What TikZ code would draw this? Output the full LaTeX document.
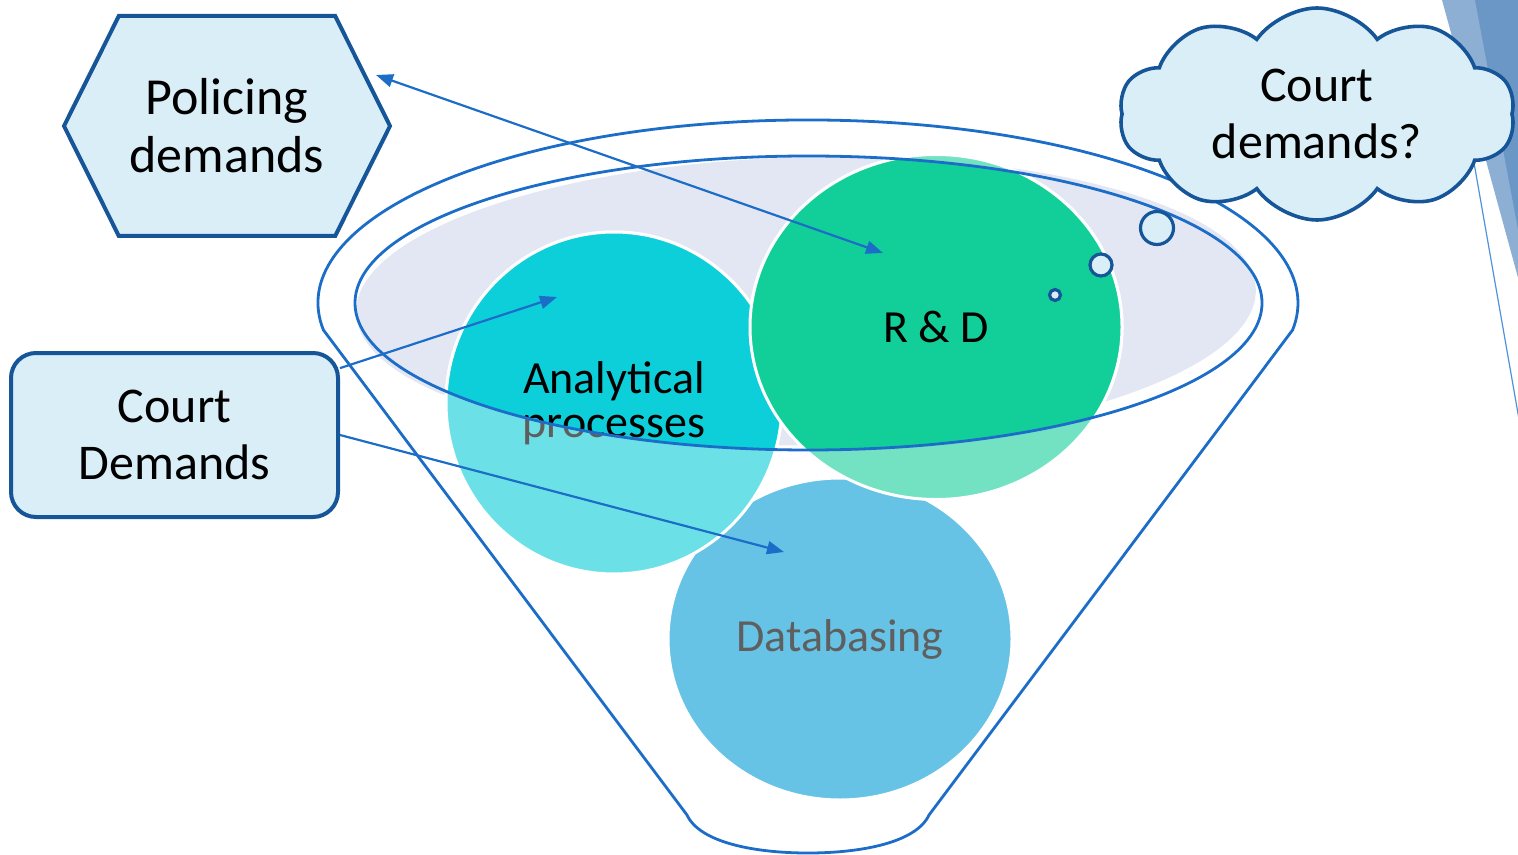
\documentclass[tikz,border=0pt]{standalone}
\usepackage{fontspec}
\setmainfont{Carlito}
\usetikzlibrary{arrows.meta,shapes.geometric,shapes.symbols}
\definecolor{boxfill}{RGB}{218,238,248}
\definecolor{boxline}{RGB}{22,86,152}
\definecolor{lineblue}{RGB}{28,109,200}
\definecolor{lavender}{RGB}{227,231,243}
\definecolor{anaDark}{RGB}{13,207,217}
\definecolor{anaLight}{RGB}{107,225,231}
\definecolor{rdDark}{RGB}{18,207,153}
\definecolor{rdLight}{RGB}{114,226,195}
\definecolor{dbFill}{RGB}{102,195,230}
\definecolor{decoLight}{RGB}{141,175,212}
\definecolor{decoDark}{RGB}{106,151,197}
\definecolor{decoLine}{RGB}{79,146,218}
\definecolor{fadedText}{RGB}{95,95,95}
\tikzset{
    x=0.5pt, y=-0.5pt, % one unit is one pixel of the slide, y runs downwards
    >={Triangle[length=8.5pt,width=6.5pt]},
    demand/.style={draw=boxline, fill=boxfill, line width=2pt, align=center,
        font=\fontsize{25pt}{28.5pt}\selectfont, inner sep=0pt},
    bubble/.style={circle, draw=boxline, fill=boxfill, line width=1.6pt, inner sep=0pt},
    area/.style={ellipse, draw=white, line width=1.5pt, align=center, inner sep=0pt,
        font=\fontsize{23pt}{22pt}\selectfont},
    funnel/.style={draw=lineblue, line width=1.4pt},
    link/.style={draw=lineblue, line width=1.1pt, ->},
}
\begin{document}
\begin{tikzpicture}
  \useasboundingbox (0,0) rectangle (1518,855);
  % slide decoration on the right edge
  \fill[decoLight] (1442,0) -- (1520,0) -- (1520,285) -- cycle;
  \fill[decoDark] (1475,0) -- (1520,0) -- (1520,240) -- cycle;
  \draw[decoLine, line width=0.6pt] (1470,140) -- (1520,425);

  % the funnel
  \draw[funnel] (323.4,330) arc[start angle=171.5, end angle=368.5, x radius=490, y radius=183]
    -- (929,815) .. controls (916,843) and (860,853) .. (808,853)
    .. controls (756,853) and (700,843) .. (687,815) -- cycle;
  \fill[lavender, rotate around={1.5:(808,303)}] (806,301) ellipse [x radius=450, y radius=144];

  % the three areas, faded below the rim
  \node[area, fill=dbFill, text=fadedText, minimum width=172pt, minimum height=161pt] (db) at (840,639) {Databasing};
  \node[area, fill=anaLight, text=fadedText, minimum width=168pt, minimum height=171pt] (ana) at (614,403) {Analytical\\processes};
  \node[area, fill=rdLight, text=fadedText, minimum width=186pt, minimum height=172.5pt] (rd) at (936,327) {R \& D};
  \begin{scope}
    \clip (808.5,303) ellipse [x radius=453.5, y radius=147];
    \node[area, fill=anaDark, minimum width=168pt, minimum height=171pt] (anaIn) at (ana) {Analytical\\processes};
    \node[area, fill=rdDark, minimum width=186pt, minimum height=172.5pt] (rdIn) at (rd) {R \& D};
  \end{scope}
  \draw[funnel] (808.5,303) ellipse [x radius=453.5, y radius=147];

  % the demands
  \node[demand, signal, signal to=west and east, signal pointer angle=127,
      minimum width=163pt, minimum height=110pt,
      font=\fontsize{26pt}{29pt}\selectfont] (policing) at (227,126) {Policing\\demands};
  \node[demand, rounded corners=12.5pt, minimum width=163.5pt, minimum height=82pt] (court) at (174.5,435) {Court\\Demands};
  \node[demand, cloud, cloud puffs=10, cloud puff arc=110, aspect=1.9, line width=1.8pt,
      minimum width=198pt, minimum height=106pt] (cloud) at (1317,114) {Court\\demands?};
  \node[bubble, minimum size=16.5pt] (b1) at (1157,228) {};
  \node[bubble, minimum size=11pt] (b2) at (1101,265) {};
  \node[bubble, minimum size=5.5pt] (b3) at (1055,295) {};

  % arrows
  \coordinate (polTip) at (376,75);
  \coordinate (rdTip) at (883,253);
  \coordinate (anaTip) at (557,297);
  \coordinate (dbTip) at (784,552);
  \draw[link, <->] (rdTip) -- (polTip);
  \draw[link] (court.22) -- (anaTip);
  \draw[link] (court.east) -- (dbTip);
\end{tikzpicture}
\end{document}
